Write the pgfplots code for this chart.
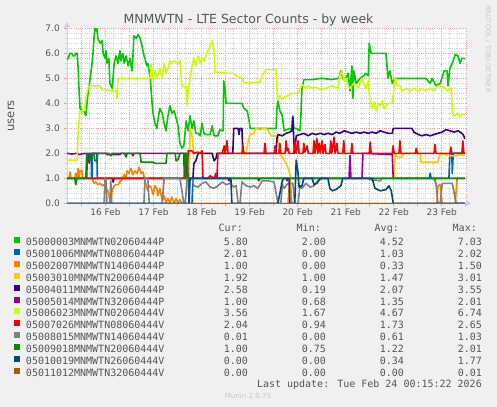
\documentclass[border=0pt]{standalone}
\usepackage{fontspec}
\setmainfont{DejaVu Sans}
\newfontfamily\monofont{DejaVu Sans Mono}
\usepackage{pgfplots}
\pgfplotsset{compat=1.18}
\usetikzlibrary{arrows.meta}

\definecolor{bgc}{HTML}{F0F0F0}
\definecolor{txtc}{HTML}{555555}
\definecolor{axc}{HTML}{C8D0F2}
\definecolor{mgc}{HTML}{E8A0A0}
\definecolor{gridc}{HTML}{D4D4D4}
\definecolor{cA}{HTML}{00CC00}
\definecolor{cB}{HTML}{0066B3}
\definecolor{cC}{HTML}{FF8000}
\definecolor{cD}{HTML}{FFCC00}
\definecolor{cE}{HTML}{330099}
\definecolor{cF}{HTML}{990099}
\definecolor{cG}{HTML}{CCFF00}
\definecolor{cH}{HTML}{FF0000}
\definecolor{cI}{HTML}{808080}
\definecolor{cJ}{HTML}{008F00}
\definecolor{cK}{HTML}{00487D}
\definecolor{cL}{HTML}{B35A00}

% legend row: name, cur, min, avg, max
\newcommand{\lrow}[5]{\rlap{#1}\makebox[222bp][r]{#2}\makebox[78bp][r]{#3}\makebox[78bp][r]{#4}\makebox[78bp][r]{#5}}

\begin{document}
\begin{tikzpicture}
\fill[bgc] (0bp,0bp) rectangle (497bp,-407bp);
\useasboundingbox (0bp,0bp) rectangle (497bp,-407bp);

\begin{axis}[
    at={(67bp,-203.3bp)}, anchor=south west,
    scale only axis, width=400bp, height=175bp,
    xmin=15.198, xmax=23.526, ymin=0, ymax=7,
    axis background/.style={fill=white},
    axis x line=bottom, axis y line=left,
    axis line style={draw=axc, line width=0.9bp},
    x axis line style={-{Triangle[length=5bp,width=6bp]}, shorten >=-4bp},
    y axis line style={-{Triangle[length=5bp,width=6bp]}, shorten >=-6bp},
    xtick={15.5,16,...,23.5},
    xticklabels={{},16 Feb,{},17 Feb,{},18 Feb,{},19 Feb,{},20 Feb,{},21 Feb,{},22 Feb,{},23 Feb,{}},
    minor x tick num=2,
    ytick={0,1,...,7},
    yticklabels={0.0,1.0,2.0,3.0,4.0,5.0,6.0,7.0},
    minor y tick num=4,
    grid=both,
    major grid style={draw=mgc, dash pattern=on 1bp off 1.2bp, line width=0.5bp},
    minor grid style={draw=gridc, dash pattern=on 1bp off 1.2bp, line width=0.5bp},
    tick align=outside,
    major tick length=3bp, minor tick length=2bp,
    major tick style={draw=mgc, line width=0.6bp},
    minor tick style={draw=gridc, line width=0.5bp},
    tick label style={font=\fontsize{9bp}{10bp}\selectfont, text=txtc, inner sep=0pt},
    xticklabel style={anchor=base, yshift=-9bp},
    yticklabel style={anchor=east, xshift=-4bp},
    ylabel={users},
    ylabel style={at={(axis description cs:-0.14,0.5)}, anchor=center,
        font=\fontsize{11.5bp}{13bp}\selectfont, text=txtc},
    every axis plot/.append style={line width=1.6bp, mark=none, line join=round},
    legend image code/.code={\fill[#1,draw=none] (0bp,0.5bp) rectangle (6bp,6.5bp);},
    legend cell align=left,
    legend style={at={(axis description cs:-0.1325,-0.1926)}, anchor=north west,
        draw=none, fill=none, inner sep=0pt, outer sep=0pt,
        row sep=-0.6bp, column sep=6bp,
        font=\monofont\fontsize{10bp}{12bp}\selectfont, text=txtc,
        nodes={inner sep=0pt, text height=8bp, text depth=4bp}},
]

% 05000003MNMWTN02060444P
\addplot[color=cA] coordinates {
(15.20,5.73) (15.24,5.9) (15.26,6.0) (15.30,6.0) (15.32,5.9) (15.36,5.9) (15.38,6.0) (15.41,6.0)
(15.43,5.4) (15.45,4.5) (15.47,3.8) (15.51,3.7) (15.55,3.7) (15.57,3.6) (15.59,3.5) (15.61,3.9)
(15.64,4.5) (15.66,4.7) (15.68,5.0) (15.72,5.6) (15.74,6.0) (15.76,6.6) (15.78,7.0) (15.80,6.9)
(15.82,7.0) (15.84,6.6) (15.89,6.4) (15.93,6.5) (15.95,6.0) (15.99,5.8) (16.01,6.1) (16.03,5.6)
(16.07,5.8) (16.09,4.8) (16.14,4.6) (16.18,5.6) (16.22,5.9) (16.26,5.6) (16.30,6.1) (16.32,5.7)
(16.36,6.0) (16.39,5.6) (16.43,5.9) (16.47,5.5) (16.51,5.8) (16.55,5.3) (16.57,5.8) (16.59,6.7)
(16.64,6.6) (16.68,6.75) (16.72,6.6) (16.76,6.3) (16.80,5.9) (16.82,5.8) (16.86,5.5) (16.88,5.6)
(16.93,5.05) (16.97,4.0) (16.99,3.6) (17.03,3.2) (17.07,3.0) (17.09,3.3) (17.13,3.8) (17.18,3.6)
(17.22,3.2) (17.26,2.9) (17.30,3.5) (17.34,3.9) (17.38,3.6) (17.43,3.7) (17.47,3.4) (17.51,3.1)
(17.55,2.4) (17.59,2.2) (17.63,2.3) (17.68,3.3) (17.72,2.9) (17.76,3.5) (17.80,3.0) (17.84,3.3)
(17.88,2.8) (17.93,2.8) (17.97,2.7) (18.01,3.2) (18.05,2.8) (18.09,2.75) (18.18,2.75) (18.22,3.1)
(18.26,2.7) (18.34,2.7) (18.38,2.95) (18.43,2.9) (18.45,2.9) (18.46,4.9) (18.49,4.6) (18.51,4.0)
(18.84,4.0) (18.88,3.8) (18.95,3.7) (18.99,3.3) (19.01,3.0) (19.55,3.0) (19.57,3.8) (19.59,4.1)
(19.63,3.7) (19.68,3.5) (19.72,2.9) (19.84,3.0) (19.88,2.9) (19.90,3.5) (19.92,3.0) (19.97,3.0)
(20.05,2.9) (20.07,3.6) (20.09,4.6) (20.13,4.95) (20.30,4.95) (20.50,5.0) (20.70,4.95) (20.86,5.0)
(20.90,5.3) (20.94,5.0) (21.01,5.0) (21.05,5.2) (21.09,4.5) (21.13,5.5) (21.15,4.2) (21.17,5.3)
(21.22,4.8) (21.30,5.0) (21.38,5.1) (21.42,5.2) (21.47,5.1) (21.49,6.4) (21.53,6.0) (21.84,6.0)
(21.88,5.0) (21.92,5.3) (21.97,4.8) (22.03,5.0) (22.67,5.0) (22.76,4.8) (22.80,5.0) (22.88,4.7)
(22.97,4.8) (23.05,5.3) (23.11,5.3) (23.13,4.7) (23.17,5.4) (23.22,5.6) (23.28,5.95) (23.34,5.9)
(23.38,5.6) (23.42,5.8) (23.48,5.8)
};
\addlegendentry{\lrow{05000003MNMWTN02060444P}{5.80}{2.00}{4.52}{7.03}}

% 05001006MNMWTN08060444P
\addplot[color=cB] coordinates {
(15.20,1.0) (15.61,1.0) (15.62,2.0) (15.70,2.0) (15.71,1.0) (15.72,1.0) (15.73,2.0) (15.82,2.0)
(15.83,1.0) (17.72,1.0) (17.74,0.0) (17.80,0.0) (17.82,1.0) (22.74,1.0) (22.76,1.2) (22.78,1.0)
(23.15,1.0) (23.17,2.0) (23.21,2.0) (23.22,1.2) (23.24,2.0) (23.48,2.01)
};
\addlegendentry{\lrow{05001006MNMWTN08060444P}{2.01}{0.00}{1.03}{2.02}}

% 05002007MNMWTN14060444P
\addplot[color=cC] coordinates {
(15.20,1.0) (15.24,1.0) (15.26,1.25) (15.28,1.0) (15.36,1.0) (15.38,1.2) (15.41,1.0) (15.43,1.4)
(15.45,1.05) (15.47,1.3) (15.51,1.3) (15.53,1.0) (15.72,1.0) (15.76,0.8) (15.80,0.85) (15.84,0.75)
(15.89,0.8) (15.93,0.7) (15.97,0.75) (16.01,0.6) (16.05,0.5) (16.09,0.15) (16.11,0.1) (16.14,0.55)
(16.18,0.7) (16.22,0.75) (16.26,0.75) (16.30,0.85) (16.34,0.95) (16.39,1.15) (16.43,1.0) (16.45,1.3)
(16.49,1.2) (16.53,1.4) (16.57,1.15) (16.61,1.3) (16.66,1.2) (16.70,1.45) (16.74,1.2) (16.78,1.25)
(16.82,0.9) (16.88,0.5) (16.91,0.7) (16.95,0.65) (16.99,0.35) (17.03,0.7) (17.07,0.6) (17.09,0.3)
(17.13,0.6) (17.18,0.1) (17.22,0.3) (17.26,0.0) (17.30,0.2) (17.34,0.0) (17.38,0.25) (17.43,0.0)
(17.47,0.2) (17.51,0.0) (17.55,0.15) (17.59,0.0) (19.80,0.0) (19.84,1.0) (19.88,0.0) (22.90,0.0)
(22.92,0.7) (22.97,0.75) (23.01,0.0) (23.28,0.0) (23.32,1.0) (23.48,1.0)
};
\addlegendentry{\lrow{05002007MNMWTN14060444P}{1.00}{0.00}{0.33}{1.50}}

% 05003010MNMWTN20060444P
\addplot[color=cD] coordinates {
(15.20,1.0) (17.74,1.0) (17.76,3.0) (17.80,2.7) (17.82,2.3) (17.84,2.0) (18.93,2.0) (18.97,2.5)
(19.01,2.75) (19.09,2.8) (19.13,3.0) (19.22,2.95) (19.30,3.0) (19.38,2.95) (19.44,2.7) (19.59,2.7)
(19.61,2.0) (19.68,1.85) (19.76,1.6) (19.82,1.3) (19.86,1.0) (22.01,1.0) (22.03,2.0) (22.07,1.85)
(22.17,1.85) (22.22,2.0) (22.55,2.0) (22.57,1.65) (22.92,1.65) (22.97,2.0) (23.17,1.9) (23.30,1.9)
(23.38,1.95) (23.48,1.92)
};
\addlegendentry{\lrow{05003010MNMWTN20060444P}{1.92}{1.00}{1.47}{3.01}}

% 05004011MNMWTN26060444P
\addplot[color=cE] coordinates {
(15.20,1.0) (16.14,1.0) (16.16,0.85) (16.18,1.0) (17.82,1.0) (17.84,1.6) (17.88,1.7) (17.93,2.0)
(18.22,2.0) (18.26,1.7) (18.30,1.8) (18.32,2.0) (18.65,2.0) (18.67,3.0) (18.76,3.0) (18.78,2.75)
(18.80,3.0) (18.84,3.0) (18.86,2.0) (19.55,2.0) (19.57,2.6) (19.59,2.75) (19.68,2.7) (19.76,2.8)
(19.84,2.85) (19.88,2.9) (19.90,3.45) (19.92,2.5) (19.94,2.0) (19.97,2.7) (20.05,2.75) (20.13,2.8)
(20.22,2.7) (20.30,2.8) (20.38,2.75) (20.47,2.8) (20.55,2.75) (20.63,2.8) (20.72,2.75) (20.80,2.85)
(20.88,2.8) (20.97,2.9) (21.05,2.85) (21.13,2.8) (21.22,2.85) (21.30,2.8) (21.38,2.85) (21.47,2.8)
(21.55,2.85) (21.63,2.8) (21.72,2.9) (21.80,2.85) (21.88,2.8) (21.97,2.8) (21.99,3.0) (22.38,3.0)
(22.42,2.85) (22.51,2.75) (22.59,2.7) (22.67,2.75) (22.76,2.7) (22.84,2.75) (22.92,2.8) (23.01,2.85)
(23.09,2.95) (23.17,2.9) (23.26,2.85) (23.34,2.9) (23.42,2.8) (23.46,2.7) (23.48,2.58)
};
\addlegendentry{\lrow{05004011MNMWTN26060444P}{2.58}{0.19}{2.07}{3.55}}

% 05005014MNMWTN32060444P
\addplot[color=cF] coordinates {
(15.20,2.0) (15.30,1.97) (15.41,2.0) (15.45,1.95) (15.57,2.0) (15.64,1.95) (15.66,1.6) (15.68,1.95)
(15.74,2.0) (16.01,2.0) (16.03,1.95) (16.30,1.95) (16.32,2.0) (16.55,2.0) (16.57,1.9) (16.59,2.0)
(17.68,2.0) (17.70,1.0) (18.55,1.0) (18.57,0.9) (18.59,1.0) (19.17,1.0) (19.19,0.9) (19.22,1.0)
(19.76,1.0) (19.78,0.9) (19.80,1.0) (21.07,1.0) (21.09,1.9) (21.11,1.0) (21.34,1.0) (21.36,2.0)
(21.97,1.95) (21.99,1.0) (22.84,1.0) (22.86,0.9) (22.88,1.0) (23.48,1.0)
};
\addlegendentry{\lrow{05005014MNMWTN32060444P}{1.00}{0.68}{1.35}{2.01}}

% 05006023MNMWTN02060444V
\addplot[color=cG] coordinates {
(15.20,1.73) (15.41,1.73) (15.43,2.8) (15.47,3.7) (15.55,3.7) (15.57,3.8) (15.59,4.2) (15.64,4.65)
(15.68,4.7) (15.89,4.7) (15.93,4.55) (16.22,4.5) (16.24,4.2) (16.26,5.0) (16.93,5.0) (16.95,5.6)
(16.99,5.0) (17.03,5.3) (17.07,5.0) (17.13,5.4) (17.18,5.0) (17.22,5.6) (17.26,5.2) (17.30,5.4)
(17.34,5.7) (17.38,5.6) (17.43,5.7) (17.51,5.6) (17.55,5.7) (17.59,4.7) (17.68,4.65) (17.70,3.9)
(17.72,4.5) (17.76,5.0) (17.80,5.5) (17.84,5.8) (17.88,5.5) (17.93,5.9) (17.97,5.6) (18.01,5.8)
(18.05,5.7) (18.09,5.9) (18.13,6.1) (18.18,6.3) (18.22,6.5) (18.26,6.1) (18.28,5.25) (18.55,5.2)
(18.67,5.2) (18.72,5.1) (18.84,5.0) (18.88,4.85) (18.97,4.8) (19.22,4.85) (19.26,5.1) (19.34,5.35)
(19.55,5.35) (19.57,4.6) (19.59,4.13) (19.63,4.3) (19.68,4.2) (19.72,4.25) (19.80,4.3) (19.88,4.4)
(20.01,4.4) (20.09,4.75) (20.17,4.6) (20.22,4.7) (20.30,4.6) (20.38,4.65) (20.47,4.55) (20.59,4.6)
(20.72,4.7) (20.84,4.6) (20.88,5.1) (20.92,5.3) (20.97,4.9) (21.01,5.0) (21.05,4.7) (21.09,4.6)
(21.17,4.8) (21.26,4.6) (21.34,5.0) (21.42,4.6) (21.47,4.9) (21.51,4.0) (21.55,3.8) (21.59,4.05)
(21.63,3.7) (21.68,4.0) (21.72,3.9) (21.76,4.1) (21.80,3.8) (21.88,4.0) (21.97,4.0) (22.03,5.05)
(22.07,4.7) (22.13,4.7) (22.17,4.5) (22.26,4.6) (22.34,4.5) (22.42,4.6) (22.51,4.5) (22.59,4.6)
(22.67,4.5) (22.76,4.6) (22.84,4.5) (22.92,4.7) (23.05,4.65) (23.13,4.5) (23.20,4.6) (23.22,3.6)
(23.26,3.5) (23.34,3.6) (23.38,3.45) (23.42,3.55) (23.48,3.56)
};
\addlegendentry{\lrow{05006023MNMWTN02060444V}{3.56}{1.67}{4.67}{6.74}}

% 05007026MNMWTN08060444V
\addplot[color=cH] coordinates {
(15.20,1.0) (17.70,1.0) (17.72,2.1) (17.80,2.1) (17.84,2.0) (17.93,2.05) (17.97,2.0) (18.01,2.1)
(18.03,1.0) (18.13,1.0) (18.18,1.1) (18.26,1.0) (18.30,1.2) (18.32,1.0) (18.34,2.0) (18.43,2.0)
(18.47,2.3) (18.49,2.0) (18.53,2.5) (18.55,2.0) (18.84,2.0) (18.86,2.33) (18.88,2.0) (19.30,2.0)
(19.32,2.4) (19.34,2.0) (19.51,2.0) (19.53,2.3) (19.55,2.0) (19.61,2.0) (19.63,2.4) (19.65,2.0)
(19.74,2.0) (19.76,2.5) (19.78,2.1) (19.80,2.2) (19.82,2.0) (19.92,2.0) (19.94,2.5) (19.97,2.0)
(20.01,2.5) (20.03,2.0) (20.11,2.0) (20.13,2.4) (20.15,2.05) (20.20,2.3) (20.22,2.0) (20.32,2.0)
(20.34,2.5) (20.36,2.0) (20.40,2.6) (20.42,2.0) (20.45,2.4) (20.47,2.0) (20.51,2.5) (20.53,2.0)
(20.57,2.35) (20.59,2.0) (20.67,2.0) (20.69,2.5) (20.71,2.0) (20.76,2.65) (20.78,2.0) (20.82,2.4)
(20.84,2.0) (20.94,2.0) (20.96,2.5) (20.98,2.0) (21.11,2.0) (21.13,2.4) (21.15,2.0) (21.49,2.0)
(21.51,2.45) (21.53,2.0) (21.97,2.0) (21.99,2.3) (22.01,2.0) (22.11,2.0) (22.13,2.5) (22.15,2.0)
(22.45,2.0) (22.47,2.2) (22.49,2.0) (22.84,2.0) (22.86,2.35) (22.88,2.0) (23.17,2.0) (23.19,2.25)
(23.21,2.0) (23.42,2.0) (23.44,2.5) (23.46,2.0) (23.48,2.04)
};
\addlegendentry{\lrow{05007026MNMWTN08060444V}{2.04}{0.94}{1.73}{2.65}}

% 05008015MNMWTN14060444V
\addplot[color=cI] coordinates {
(15.20,0.0) (15.97,0.0) (15.99,1.0) (16.01,0.9) (16.03,0.0) (16.09,0.0) (16.11,0.9) (16.13,0.0)
(16.80,0.0) (16.82,1.0) (16.88,1.0) (16.91,0.0) (17.18,0.0) (17.22,1.0) (17.55,1.0) (17.59,0.5)
(17.63,0.0) (17.66,0.0) (17.70,1.0) (17.80,1.0) (17.84,0.7) (17.93,0.65) (18.01,0.8) (18.09,0.85)
(18.18,0.65) (18.26,0.6) (18.34,0.7) (18.43,0.85) (18.51,0.75) (18.59,0.8) (18.67,0.65) (18.72,0.7)
(18.76,0.0) (18.80,0.0) (18.84,0.85) (18.93,0.7) (19.01,0.65) (19.09,0.7) (19.17,0.6) (19.26,0.9)
(19.38,0.9) (19.51,0.85) (19.59,0.0) (19.65,0.0) (19.68,0.75) (19.72,0.6) (19.80,0.8) (19.90,0.8)
(19.94,0.0) (20.01,0.0) (20.05,0.7) (20.09,0.6) (20.17,0.8) (20.26,0.65) (20.34,0.7) (20.42,0.9)
(20.51,1.0) (21.47,1.0) (21.51,0.95) (21.72,0.9) (21.76,1.0) (22.84,1.0) (22.88,0.8) (22.92,0.0)
(22.97,0.0) (23.01,0.8) (23.13,0.8) (23.22,0.8) (23.30,0.0) (23.48,0.01)
};
\addlegendentry{\lrow{05008015MNMWTN14060444V}{0.01}{0.00}{0.61}{1.03}}

% 05009018MNMWTN20060444V
\addplot[color=cJ] coordinates {
(15.20,1.0) (15.36,1.0) (15.38,0.75) (15.41,1.0) (15.59,1.0) (15.61,2.0) (15.64,1.75) (15.68,1.75)
(15.70,2.0) (15.76,2.0) (15.78,1.7) (15.82,1.7) (15.84,2.0) (16.07,2.0) (16.11,1.9) (16.14,2.0)
(16.39,2.0) (16.43,1.85) (16.45,2.0) (16.72,2.0) (16.74,1.65) (16.97,1.65) (17.03,1.6) (17.26,1.6)
(17.28,2.0) (17.45,2.0) (17.47,1.7) (17.51,1.75) (17.55,2.0) (17.63,2.0) (17.64,1.0) (17.66,1.0)
(17.67,2.0) (17.70,2.0) (17.72,1.0) (23.48,1.0)
};
\addlegendentry{\lrow{05009018MNMWTN20060444V}{1.00}{0.75}{1.22}{2.01}}

% 05010019MNMWTN26060444V
\addplot[color=cK] coordinates {
(15.20,0.0) (17.74,0.0) (17.76,1.0) (18.61,1.0) (18.63,0.0) (19.59,0.0) (19.68,0.9) (19.72,1.0)
(19.82,1.0) (19.84,0.0) (19.94,0.0) (19.97,1.73) (20.01,1.2) (20.03,0.65) (20.09,0.7) (20.13,1.0)
(20.30,1.0) (20.34,0.75) (20.40,0.8) (20.47,1.0) (20.63,1.0) (20.67,0.6) (20.72,0.5) (20.80,0.55)
(20.90,0.7) (20.94,1.0) (21.55,1.0) (21.61,0.6) (21.72,0.5) (21.84,0.55) (21.90,0.7) (21.95,0.5)
(21.99,0.0) (23.48,0.0)
};
\addlegendentry{\lrow{05010019MNMWTN26060444V}{0.00}{0.00}{0.34}{1.77}}

% 05011012MNMWTN32060444V
\addplot[color=cL] coordinates {
(15.20,0.0) (23.48,0.0)
};
\addlegendentry{\lrow{05011012MNMWTN32060444V}{0.00}{0.00}{0.00}{0.01}}

\end{axis}

% title and side texts
\node[anchor=base, inner sep=0pt, text=txtc, font=\fontsize{12.5bp}{14bp}\selectfont]
  at (248.5bp,-23.5bp) {MNMWTN - LTE Sector Counts - by week};
\node[rotate=-90, anchor=west, inner sep=0pt, text={rgb,255:red,200;green,200;blue,200},
  font=\fontsize{6.8bp}{8bp}\selectfont] at (488bp,-5bp) {RRDTOOL / TOBI OETIKER};

% legend header and footer
\begin{scope}[every node/.style={inner sep=0pt, text=txtc, font=\monofont\fontsize{10bp}{12bp}\selectfont}]
\node[anchor=base east] at (243bp,-231.3bp) {Cur:};
\node[anchor=base east] at (321bp,-231.3bp) {Min:};
\node[anchor=base east] at (399bp,-231.3bp) {Avg:};
\node[anchor=base east] at (477bp,-231.3bp) {Max:};
\node[anchor=base east] at (482bp,-387.6bp) {Last update: Tue Feb 24 00:15:22 2026};
\end{scope}
\node[anchor=base, inner sep=0pt, text={rgb,255:red,200;green,200;blue,200},
  font=\fontsize{7.1bp}{8bp}\selectfont] at (248bp,-398.5bp) {Munin 2.0.75};
\end{tikzpicture}
\end{document}
